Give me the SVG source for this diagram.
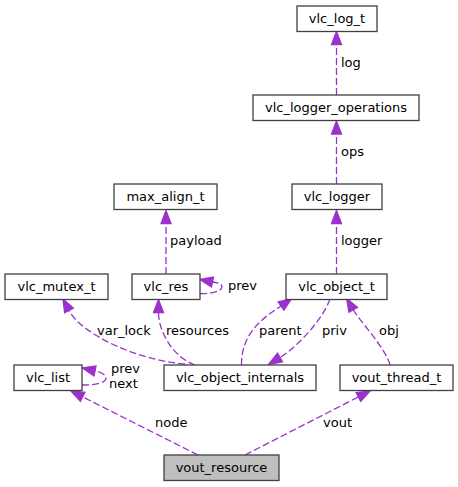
<svg xmlns="http://www.w3.org/2000/svg" width="458" height="487" viewBox="0 0 458 487">
<style>
.box{fill:#ffffff;stroke:#404040;stroke-width:1.3}
.main{fill:#bfbfbf;stroke:#404040;stroke-width:1.3}
.t{font-family:"DejaVu Sans","Liberation Sans",sans-serif;font-size:13px;fill:#000000}
.c{text-anchor:middle}
.e{fill:none;stroke:#9a32cd;stroke-width:1.3;stroke-dasharray:7,3}
.h{fill:#9a32cd;stroke:#9a32cd;stroke-width:1.3}
</style>
<rect width="458" height="487" fill="#ffffff"/>
<g id="connectors">
<path class="e" d="M336.5,95 L336.5,44.5"/><polygon class="h" points="336.5,31.5 331.5,44.5 341.5,44.5"/>
<text class="t" x="341" y="67">log</text>
<path class="e" d="M336.5,184 L336.5,134"/><polygon class="h" points="336.5,121 331.5,134 341.5,134"/>
<text class="t" x="341" y="156">ops</text>
<path class="e" d="M166,274 L166,223"/><polygon class="h" points="166,210.5 161,223.5 171,223.5"/>
<text class="t" x="170" y="245">payload</text>
<path class="e" d="M336.5,274 L336.5,223"/><polygon class="h" points="336.5,210.5 331.5,223.5 341.5,223.5"/>
<text class="t" x="341" y="245">logger</text>
<path class="e" d="M200,293.5 C212,294 222,291 222,287 C222,284 218,282.5 212.5,282"/><polygon class="h" points="200,279.5 213.5,277 211.5,287"/>
<text class="t" x="228" y="290">prev</text>
<path class="e" d="M185,364 C135,360 80.5,333 69,310.5"/><polygon class="h" points="63,299 73.4,308.2 64.6,312.8"/>
<text class="t" x="97" y="335">var_lock</text>
<path class="e" d="M195,365 C172,357 158.5,330 158.5,313"/><polygon class="h" points="158.5,299.5 153.5,312.5 163.5,312.5"/>
<text class="t" x="166" y="335">resources</text>
<path class="e" d="M241.5,365 C241,330 268.7,314.6 281,306"/><polygon class="h" points="291.7,298.5 283.9,310.1 278.1,301.9"/>
<text class="t" x="259" y="335">parent</text>
<path class="e" d="M330,299 C322,322 293,350 280,357.5"/><polygon class="h" points="268.5,364.5 282.5,361.8 277.5,353.2"/>
<text class="t" x="322" y="335">priv</text>
<path class="e" d="M390,365 C387,350 359.2,320.2 353.2,309.8"/><polygon class="h" points="346.7,298.5 357.5,307.3 348.9,312.3"/>
<text class="t" x="379" y="335">obj</text>
<path class="e" d="M82,385 C95,385 106,383 106,378 C106,375 101,372 95,371"/><polygon class="h" points="82.3,368 96,366 94,376"/>
<text class="t" x="111" y="373">prev</text>
<text class="t" x="109" y="387.5">next</text>
<path class="e" d="M198,455 L82.6,396.9"/><polygon class="h" points="71,391 84.9,392.4 80.4,401.4"/>
<text class="t" x="155" y="427">node</text>
<path class="e" d="M245,455 L358.4,396.9"/><polygon class="h" points="370,391 360.7,401.4 356.1,392.5"/>
<text class="t" x="323" y="427">vout</text>
</g>
<g id="vlc_log_t"><rect class="box" x="297" y="6" width="80" height="25.5"/><text class="t c" x="337" y="23">vlc_log_t</text></g>
<g id="vlc_logger_operations"><rect class="box" x="253" y="95" width="166" height="25.5"/><text class="t c" x="336" y="112">vlc_logger_operations</text></g>
<g id="max_align_t"><rect class="box" x="114" y="184" width="103" height="25.5"/><text class="t c" x="165.5" y="201">max_align_t</text></g>
<g id="vlc_logger"><rect class="box" x="292" y="184" width="90" height="25.5"/><text class="t c" x="337" y="201">vlc_logger</text></g>
<g id="vlc_mutex_t"><rect class="box" x="5" y="274" width="103" height="25.5"/><text class="t c" x="56.5" y="291">vlc_mutex_t</text></g>
<g id="vlc_res"><rect class="box" x="132" y="274" width="68" height="25.5"/><text class="t c" x="166" y="291">vlc_res</text></g>
<g id="vlc_object_t"><rect class="box" x="286" y="274" width="101" height="25.5"/><text class="t c" x="336.5" y="291">vlc_object_t</text></g>
<g id="vlc_list"><rect class="box" x="14" y="365" width="68" height="25.5"/><text class="t c" x="48" y="382">vlc_list</text></g>
<g id="vlc_object_internals"><rect class="box" x="164" y="365" width="152" height="25.5"/><text class="t c" x="240" y="382">vlc_object_internals</text></g>
<g id="vout_thread_t"><rect class="box" x="340" y="365" width="113" height="25.5"/><text class="t c" x="396.5" y="382">vout_thread_t</text></g>
<g id="vout_resource"><rect class="main" x="164" y="455" width="115" height="25.5"/><text class="t c" x="221.5" y="472">vout_resource</text></g>
</svg>
